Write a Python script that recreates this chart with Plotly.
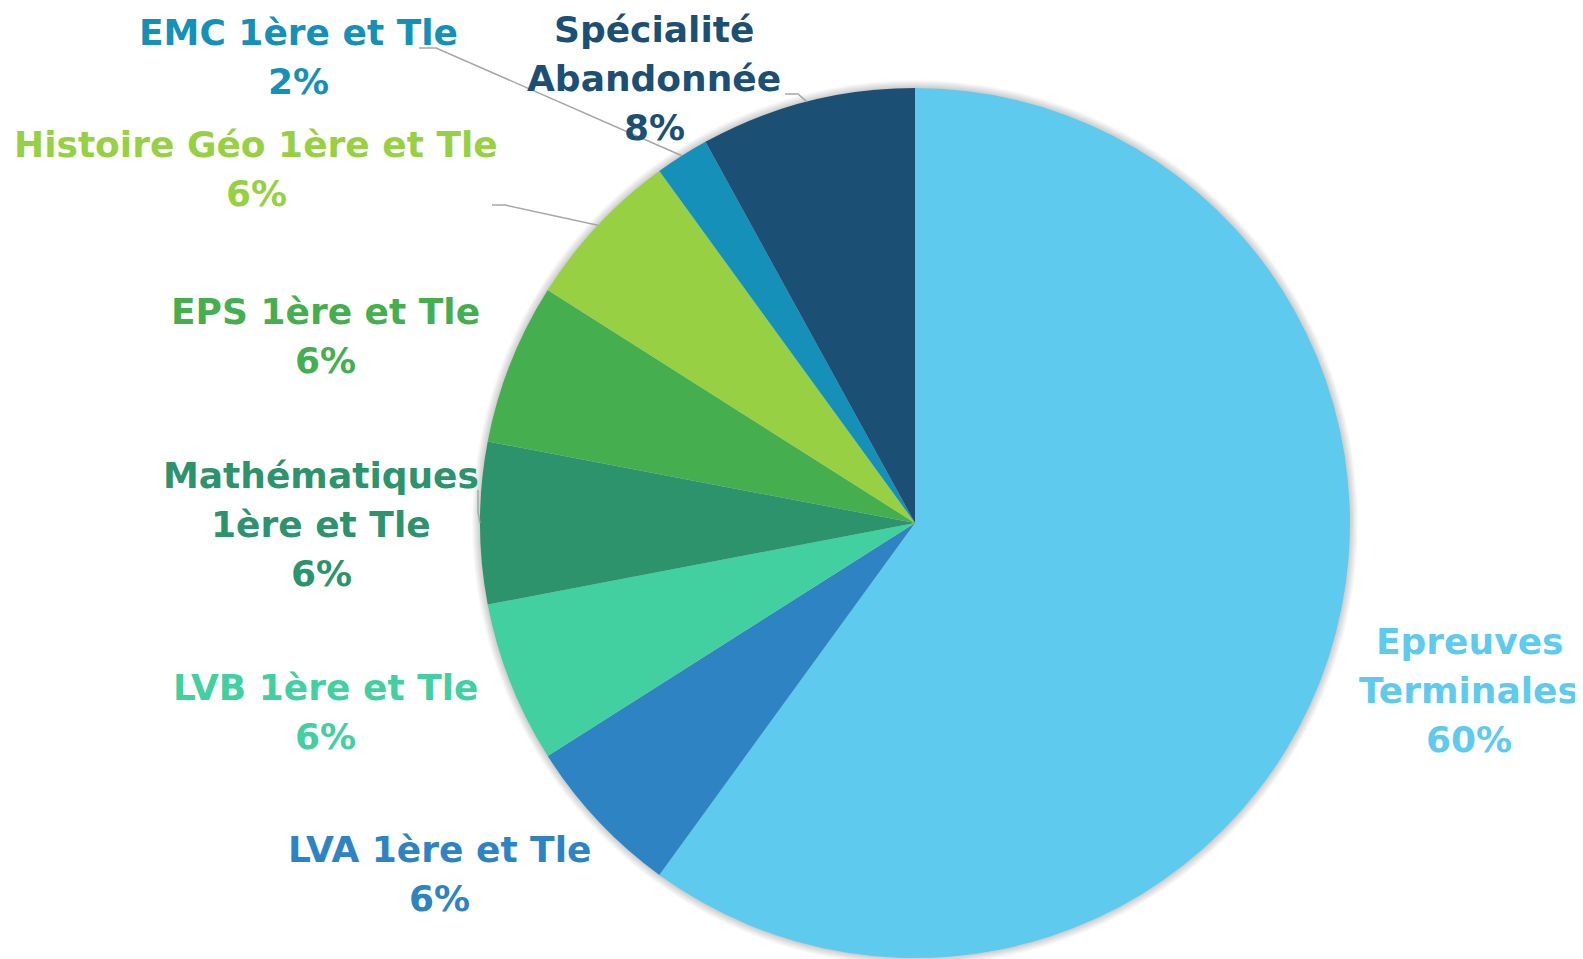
import plotly.graph_objects as go
import math

W, H = 1583, 959
OFF = 8  # page body margin offset (screen px)

categories = ["Epreuves Terminales", "LVA 1ère et Tle", "LVB 1ère et Tle",
              "Mathématiques 1ère et Tle", "EPS 1ère et Tle",
              "Histoire Géo 1ère et Tle", "EMC 1ère et Tle", "Spécialité Abandonnée"]
values = [60, 6, 6, 6, 6, 6, 2, 8]
label_lines = [["Epreuves", "Terminales"], ["LVA 1ère et Tle"], ["LVB 1ère et Tle"],
               ["Mathématiques", "1ère et Tle"], ["EPS 1ère et Tle"],
               ["Histoire Géo 1ère et Tle"], ["EMC 1ère et Tle"], ["Spécialité", "Abandonnée"]]
colors = ["#5ECBEE", "#2E83C3", "#43D0A0", "#2C936C", "#45AF50", "#98D043", "#1590B8", "#1C4F74"]

# label block centers (screen px) and leader elbow points (None = no leader)
label_pos = [(1469, 690), (439, 874), (325, 712), (321, 524), (325, 336), (256, 169), (298, 57), (654, 78)]
elbow = [None, None, None, [(478, 490), (478, 512)], None, [(492, 205), (505, 205)],
         [(419, 48), (436, 48)], [(785, 94), (798, 94)]]
PITCH = 49

cx, cy, R = 915, 523, 435

fig = go.Figure()

# soft shadow behind pie
for k in range(8, 0, -1):
    fig.add_shape(type="circle", xref="x", yref="y",
                  x0=cx - R - k, x1=cx + R + k, y0=cy - R - k, y1=cy + R + k,
                  fillcolor="rgba(0,0,0,0.025)", line=dict(width=0), layer="below")

fig.add_trace(go.Pie(labels=categories, values=values, sort=False, direction="clockwise",
                     rotation=0, marker=dict(colors=colors, line=dict(width=0)),
                     textinfo="none", hoverinfo="label+percent", showlegend=False,
                     domain=dict(x=[(cx - OFF - R) / W, (cx - OFF + R) / W],
                                 y=[(H - (cy - OFF) - R) / H, (H - (cy - OFF) + R) / H])))

# invisible pixel axes (screen coords) for annotations and leader lines
fig.add_trace(go.Scatter(x=[OFF, W + OFF], y=[OFF, H + OFF], mode="markers", marker=dict(opacity=0),
                         hoverinfo="skip", showlegend=False))

total = sum(values)
cum = 0
for i, v in enumerate(values):
    mid = (cum + v / 2) / total
    cum += v
    pct = round(100 * v / total)
    lines = label_lines[i] + [f"{pct}%"]
    n = len(lines)
    for k, t in enumerate(lines):
        fig.add_annotation(x=label_pos[i][0], y=label_pos[i][1] + (k - (n - 1) / 2) * PITCH,
                           xref="x", yref="y", text=t, showarrow=False,
                           xanchor="center", yanchor="middle", align="center",
                           font=dict(family="DejaVu Sans", size=36, color=colors[i], weight="bold"))
    if elbow[i] is not None:
        th = 2 * math.pi * mid
        ex, ey = cx + R * math.sin(th), cy - R * math.cos(th)
        pts = elbow[i] + [(ex, ey)]
        path = "M " + " L ".join(f"{x},{y}" for x, y in pts)
        fig.add_shape(type="path", path=path, xref="x", yref="y",
                      line=dict(color="#A6A6A6", width=1.5))

fig.update_layout(
    width=W, height=H, margin=dict(l=0, r=0, t=0, b=0),
    paper_bgcolor="white", plot_bgcolor="rgba(0,0,0,0)",
    xaxis=dict(range=[OFF, W + OFF], visible=False, fixedrange=True),
    yaxis=dict(range=[H + OFF, OFF], visible=False, fixedrange=True),
)

fig.write_html("out.html")
